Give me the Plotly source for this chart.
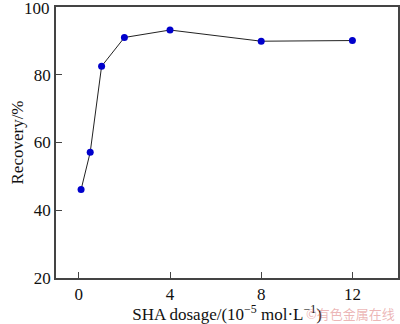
import plotly.graph_objects as go

dosage = [0.1, 0.5, 1, 2, 4, 8, 12]
recovery = [46.1, 57.1, 82.5, 91.0, 93.2, 89.9, 90.1]
x_ticks = [0, 4, 8, 12]
y_ticks = [20, 40, 60, 80, 100]

font_family = "Liberation Serif, Times New Roman, serif"

fig = go.Figure()
fig.add_trace(go.Scatter(
    x=dosage, y=recovery, mode="lines+markers",
    line=dict(color="#222222", width=1),
    marker=dict(color="#0000cc", size=7),
    showlegend=False,
))

axis_common = dict(
    showline=True, linecolor="#444444", linewidth=1.5, mirror=True,
    ticks="inside", ticklen=6, tickwidth=1.2, tickcolor="#444444",
    showgrid=False, zeroline=False,
    tickfont=dict(family=font_family, size=17, color="#111111"),
)

fig.update_layout(
    width=400, height=324,
    margin=dict(l=56, r=2, t=7, b=46, autoexpand=False),
    paper_bgcolor="white", plot_bgcolor="white",
    xaxis=dict(range=[-1, 14], tickvals=x_ticks, ticktext=[str(v) for v in x_ticks],
               title=dict(text="SHA dosage/(10<sup>−5</sup> mol·L<sup>−1</sup>)",
                          font=dict(family=font_family, size=17, color="#111111"), standoff=4),
               **axis_common),
    yaxis=dict(range=[20, 100], tickvals=y_ticks,
               ticktext=[str(v) if v != y_ticks[-1] else "" for v in y_ticks],
               title=dict(text="Recovery/%",
                          font=dict(family=font_family, size=17, color="#111111"), standoff=6),
               **axis_common),
)

# top tick label drawn as annotation so it is not dropped at the paper edge
fig.add_annotation(
    text=str(y_ticks[-1]), xref="paper", yref="y", x=0, y=y_ticks[-1],
    xanchor="right", yanchor="middle", xshift=-5, yshift=-1, showarrow=False,
    borderpad=0,
    font=dict(family=font_family, size=17, color="#111111"),
)

fig.add_annotation(
    text="©有色金属在线", xref="paper", yref="paper", x=0.995, y=-0.13,
    xanchor="right", yanchor="middle", showarrow=False, borderpad=0,
    font=dict(family="Noto Sans CJK SC", size=13, color="rgba(220,120,120,0.55)"),
)

fig.write_html("out.html")
